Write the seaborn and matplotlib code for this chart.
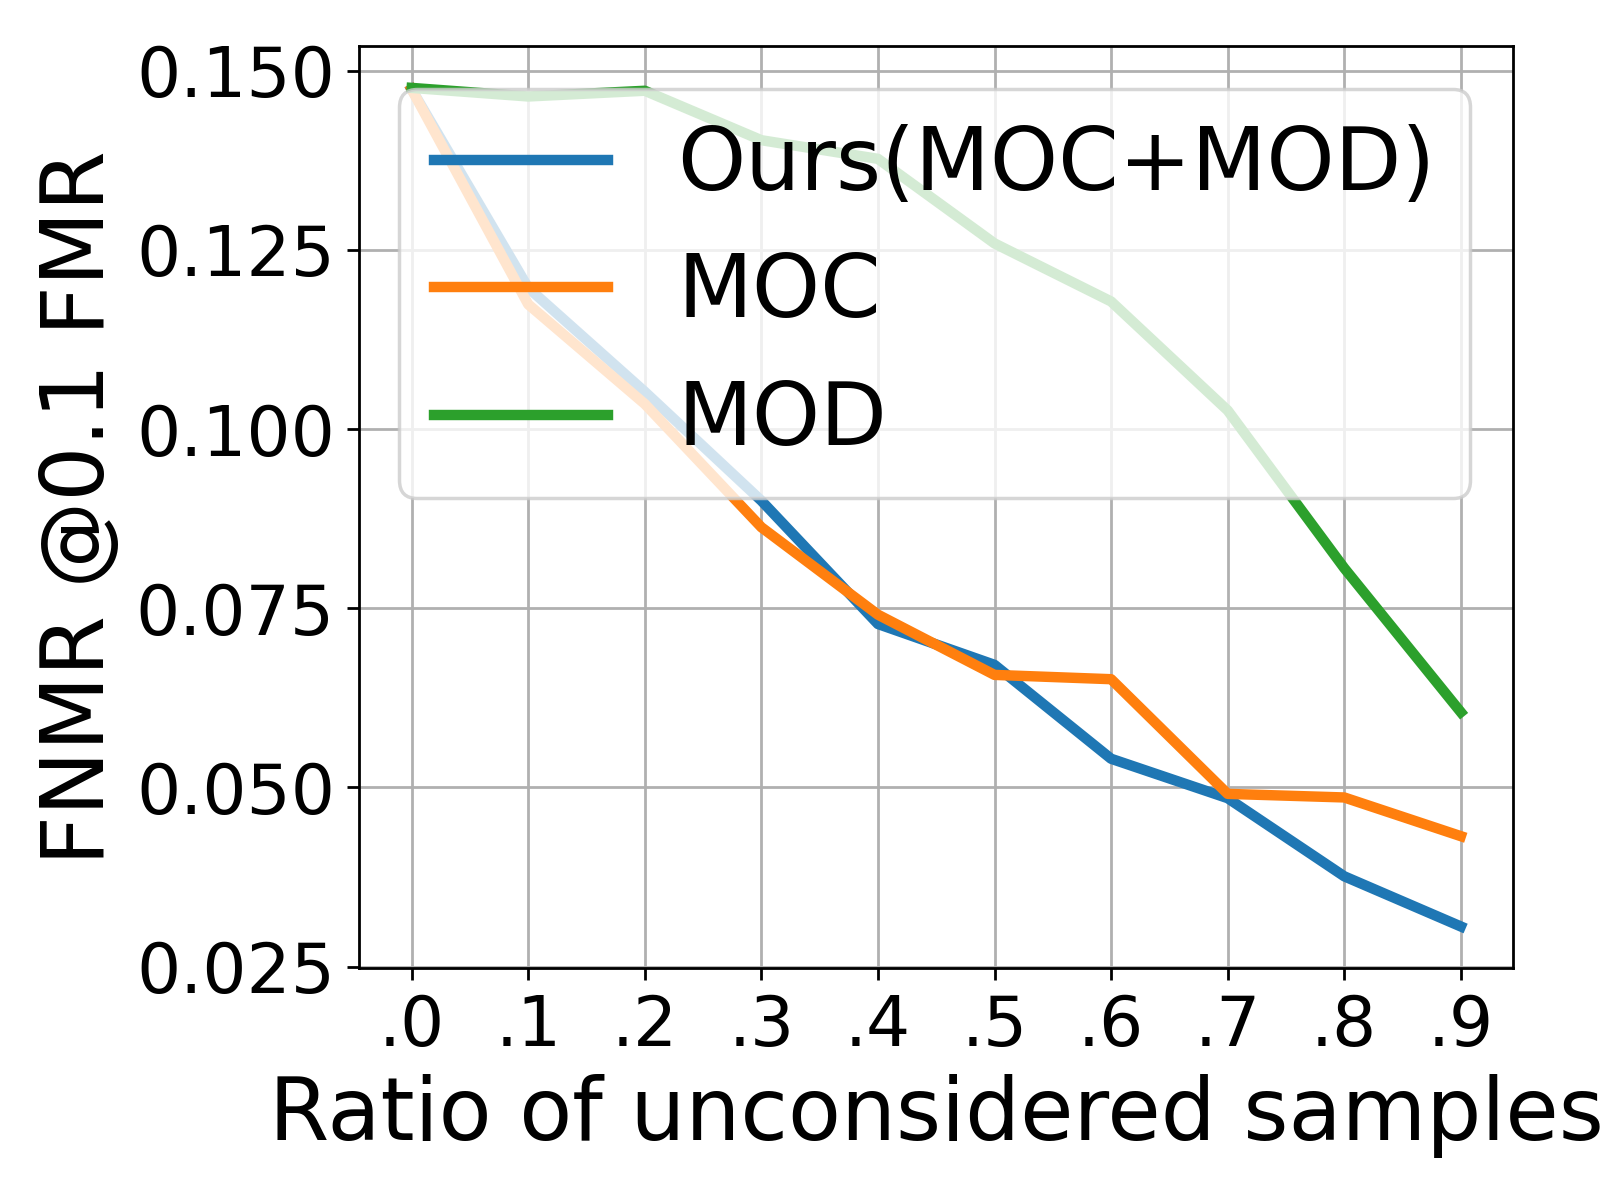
import matplotlib
matplotlib.use("Agg")
import matplotlib.pyplot as plt
import seaborn as sns
import pandas as pd
import numpy as np

ratios = [0.0, 0.1, 0.2, 0.3, 0.4, 0.5, 0.6, 0.7, 0.8, 0.9]
tick_labels = [".0", ".1", ".2", ".3", ".4", ".5", ".6", ".7", ".8", ".9"]

ours = [0.1474, 0.1197, 0.1052, 0.0900, 0.0728, 0.0671, 0.0540, 0.0485, 0.0376, 0.0306]
moc = [0.1474, 0.1174, 0.1035, 0.0863, 0.0741, 0.0657, 0.0651, 0.0491, 0.0486, 0.0432]
mod = [0.1476, 0.1464, 0.1472, 0.1403, 0.1377, 0.1259, 0.1178, 0.1026, 0.0806, 0.0605]

names = ["Ours(MOC+MOD)", "MOC", "MOD"]

df = pd.DataFrame({
    "ratio": ratios * 3,
    "fnmr": ours + moc + mod,
    "method": [names[0]] * 10 + [names[1]] * 10 + [names[2]] * 10,
})

fontsize = 25
plt.rcParams['axes.labelsize'] = fontsize
plt.rcParams['xtick.labelsize'] = 20
plt.rcParams['ytick.labelsize'] = 20

fig, ax = plt.subplots(figsize=(6.4, 4.8), dpi=250)

sns.lineplot(data=df, x="ratio", y="fnmr", hue="method", hue_order=names,
             palette=["#1f77b4", "#ff7f0e", "#2ca02c"], linewidth=3, ax=ax)

ax.grid(True)
ax.set_xticks(ratios)
ax.set_xticklabels(tick_labels)
ax.set_xlabel("Ratio of unconsidered samples")
ax.set_ylabel("FNMR @0.1 FMR")

handles, labels = ax.get_legend_handles_labels()
ax.legend(handles, labels, loc="upper right", fontsize=fontsize)

fig.subplots_adjust(left=0.2245, right=0.9458, top=0.9617, bottom=0.193)

fig.savefig("out.png", dpi=250)
